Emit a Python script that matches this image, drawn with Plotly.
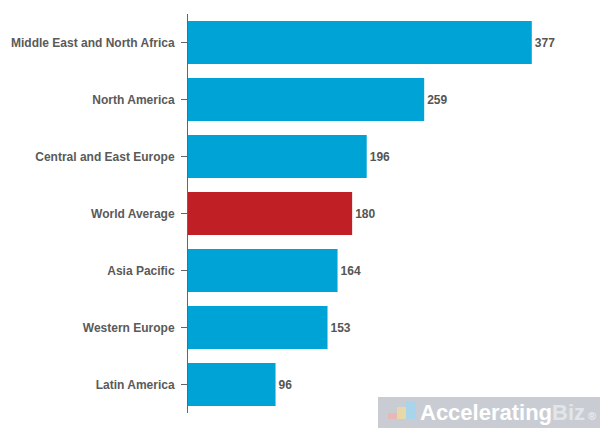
import plotly.graph_objects as go

categories = ["Middle East and North Africa", "North America", "Central and East Europe",
              "World Average", "Asia Pacific", "Western Europe", "Latin America"]
values = [377, 259, 196, 180, 164, 153, 96]
colors = ["#00a3d6", "#00a3d6", "#00a3d6", "#c01f26", "#00a3d6", "#00a3d6", "#00a3d6"]

L, T, B, R = 188, 14, 17, 29
W, H = 600, 430
pw, ph = W - L - R, H - T - B

def px(x):
    return (x - L) / pw

def py(y):
    return (H - B - y) / ph

fig = go.Figure(go.Bar(
    y=categories, x=values, orientation="h",
    marker=dict(color=colors, line=dict(width=0)),
    text=[str(v) for v in values], textposition="outside",
    textfont=dict(family="Liberation Sans, Arial", size=12, color="#555555", weight="bold"),
    cliponaxis=False, hoverinfo="skip",
))

fig.update_layout(
    width=W, height=H, margin=dict(l=L, r=R, t=T, b=B),
    paper_bgcolor="white", plot_bgcolor="white",
    bargap=0.245, showlegend=False,
    font=dict(family="Liberation Sans, Arial", size=12, color="#555555"),
    xaxis=dict(range=[0, 420], visible=False, fixedrange=True),
    yaxis=dict(autorange="reversed", showline=True, linecolor="#666666", linewidth=1,
               ticks="outside", ticklen=6, tickcolor="#666666", ticklabelstandoff=4,
               tickfont=dict(family="Liberation Sans, Arial", size=12, color="#5a5a5a", weight="bold"),
               showgrid=False, zeroline=False, fixedrange=True),
)

# watermark
fig.add_shape(type="rect", xref="paper", yref="paper",
              x0=px(378), x1=px(600), y0=py(428), y1=py(397),
              fillcolor="#c9cdd3", line=dict(width=0), layer="above")
# small logo
fig.add_shape(type="rect", xref="paper", yref="paper",
              x0=px(388), x1=px(397), y0=py(419), y1=py(413),
              fillcolor="#e8b8b8", line=dict(width=0), layer="above")
fig.add_shape(type="rect", xref="paper", yref="paper",
              x0=px(397), x1=px(406), y0=py(419), y1=py(407),
              fillcolor="#e6d8a8", line=dict(width=0), layer="above")
fig.add_shape(type="rect", xref="paper", yref="paper",
              x0=px(406), x1=px(416), y0=py(419), y1=py(401),
              fillcolor="#a8d4ec", line=dict(width=0), layer="above")
fig.add_annotation(xref="paper", yref="paper", x=px(418), y=py(412),
                   xanchor="left", yanchor="middle", showarrow=False,
                   text="<span style='color:#ffffff'>Accelerating</span><span style='color:#e2e5e9'>Biz</span><span style='color:#eeeeee;font-size:11px'> ®</span>",
                   font=dict(family="Liberation Sans, Arial", size=22, weight="bold"))

fig.write_html("out.html", config={"displayModeBar": False},
               post_script="document.body.style.margin='0';document.body.style.padding='0';")
